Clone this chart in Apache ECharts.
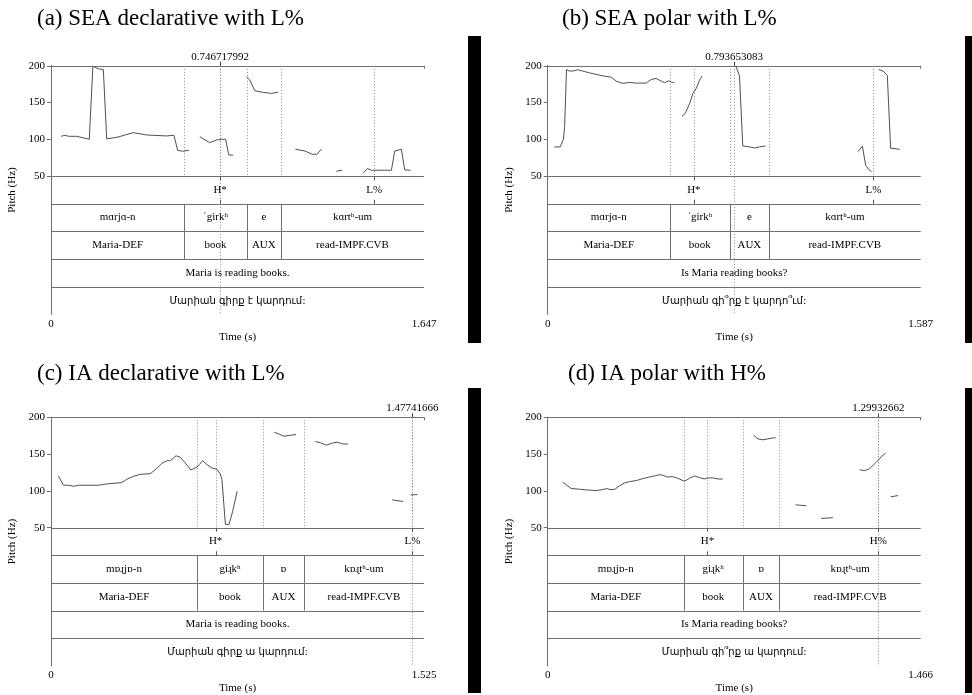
<!DOCTYPE html>
<html><head><meta charset="utf-8">
<script src="https://cdn.jsdelivr.net/npm/echarts@6/dist/echarts.min.js"></script>
<style>html,body{margin:0;padding:0;background:#fff}#c{width:972px;height:695px}</style>
</head><body><div id="c"></div>
<script>
// ---------- data ----------
const titles = ['(a) SEA declarative with L%', '(b) SEA polar with L%', '(c) IA declarative with L%', '(d) IA polar with H%'];
const durations = [1.647, 1.587, 1.525, 1.466];
const durationLabels = ['1.647', '1.587', '1.525', '1.466'];
const pitchMin = 50, pitchMax = 200, pitchStep = 50;
const cursorTimes = [0.746717992, 0.793653083, 1.47741666, 1.29932662];
const cursorLabels = ['0.746717992', '0.793653083', '1.47741666', '1.29932662'];
const wordBounds = [[0.5886, 0.864, 1.0156], [0.5196, 0.775, 0.9413], [0.5968, 0.867, 1.0335], [0.535, 0.7657, 0.911]];
const toneTimes = [[0.7467, 1.4275], [0.6219, 1.3856], [0.673, 1.4774], [0.628, 1.2993]];
const toneLabels = [['H*', 'L%'], ['H*', 'L%'], ['H*', 'L%'], ['H*', 'H%']];
const wordsSEA = ['mɑrjɑ-n', 'ˈgirkʰ', 'e', 'kɑrtʰ-um'];
const wordsIA = ['mɒɻjɒ-n', 'giɻkʰ', 'ɒ', 'kɒɻtʰ-um'];
const glosses = ['Maria-DEF', 'book', 'AUX', 'read-IMPF.CVB'];
const translations = ['Maria is reading books.', 'Is Maria reading books?', 'Maria is reading books.', 'Is Maria reading books?'];
const armenian = ['Մարիան գիրք է կարդում:', 'Մարիան գի՞րք է կարդո՞ւմ:', 'Մարիան գիրք ա կարդում:', 'Մարիան գի՞րք ա կարդում:'];

const pitchA = [
 [[0.044,104.2],[0.062,105.6],[0.077,104.2],[0.113,104.2],[0.169,100.2],[0.185,199.5],[0.209,195.9],[0.231,195.0],[0.246,100.6],[0.297,103.3],[0.363,109.2],[0.422,106],[0.510,104.7],[0.543,105.6],[0.559,85.2],[0.581,83.9],[0.610,85.2]],
 [[0.657,103.8],[0.675,100.2],[0.701,95.6],[0.731,99.2],[0.753,100.2],[0.771,100.2],[0.785,78.9],[0.804,78.5]],
 [[0.863,185.1],[0.878,180.6],[0.900,166.1],[0.937,163.9],[0.974,162.5],[1.003,164.3]],
 [[1.079,86.6],[1.121,84.3],[1.154,79.8],[1.175,79.8],[1.194,87.0]],
 [[1.260,56.8],[1.285,58.1]],
 [[1.378,54.1],[1.397,60.4],[1.415,58.1],[1.503,58.1],[1.518,84.3],[1.547,86.6],[1.562,58.6],[1.588,58.1]]
];
const pitchB = [
 [[0.028,89.8],[0.053,89.8],[0.067,100.2],[0.072,117.3],[0.080,195.0],[0.089,193.2],[0.107,192.8],[0.128,194.6],[0.149,192.8],[0.177,190.5],[0.220,187.3],[0.248,185.5],[0.270,184.6],[0.291,179.2],[0.319,176.1],[0.348,177.4],[0.376,176.5],[0.419,176.5],[0.440,181.5],[0.461,182.8],[0.483,179.2],[0.497,177.0],[0.515,179.7],[0.530,177.4],[0.539,177.4]],
 [[0.571,131.3],[0.585,135.4],[0.603,148.0],[0.618,162.5],[0.632,169.3],[0.646,180.6],[0.657,186.0]],
 [[0.792,201],[0.802,198.6],[0.816,186.4],[0.830,91.1],[0.859,89.8],[0.880,88.4],[0.901,89.8],[0.927,91.1]],
 [[1.320,83.4],[1.339,90.7],[1.353,64.5],[1.370,57.7],[1.378,56.3]],
 [[1.408,195.0],[1.427,192.8],[1.445,186.9],[1.459,88.0],[1.498,86.6]]
];
const pitchC = [
 [[0.030,120.3],[0.051,107.7],[0.071,107.7],[0.092,106.3],[0.112,107.7],[0.194,107.7],[0.228,109.5],[0.289,111.3],[0.310,115.8],[0.337,119.8],[0.365,122.5],[0.406,123.4],[0.433,130.6],[0.453,137.4],[0.474,141.0],[0.487,141.0],[0.511,147.7],[0.528,145.9],[0.549,137.8],[0.572,128.4],[0.597,132.4],[0.606,135.6],[0.620,141.0],[0.638,135.6],[0.658,131.1],[0.679,129.3],[0.692,123.0],[0.699,115.3],[0.713,54.5],[0.728,54.5],[0.743,72.5],[0.761,99.5]],
 [[0.913,179.7],[0.931,177.5],[0.952,174.3],[0.972,175.2],[1.002,176.6]],
 [[1.081,167.1],[1.102,165.3],[1.126,162.2],[1.150,164.9],[1.170,166.2],[1.191,164.0],[1.214,163.5]],
 [[1.395,87.8],[1.440,85.6]],
 [[1.470,94.6],[1.498,95.0]]
];
const pitchD = [
 [[0.059,111.7],[0.072,108.6],[0.092,103.2],[0.125,102.3],[0.151,101.4],[0.190,100.5],[0.216,101.8],[0.232,103.2],[0.245,101.8],[0.262,101.8],[0.282,106.8],[0.302,110.8],[0.321,112.6],[0.348,114.0],[0.374,116.7],[0.400,118.9],[0.420,120.3],[0.439,122.1],[0.452,121.2],[0.472,118.9],[0.492,119.4],[0.511,117.1],[0.538,113.1],[0.557,117.1],[0.577,120.3],[0.597,118.0],[0.616,116.2],[0.629,117.6],[0.649,117.6],[0.669,116.2],[0.688,116.2]],
 [[0.809,175.7],[0.826,170.7],[0.846,169.4],[0.866,170.7],[0.885,172.1],[0.896,172.1]],
 [[0.974,81.1],[1.016,79.8]],
 [[1.075,62.6],[1.121,63.5]],
 [[1.226,128.8],[1.246,127.5],[1.265,130.2],[1.292,139.2],[1.311,146.4],[1.328,151.4]],
 [[1.348,91.9],[1.377,93.7]]
];
const pitchSets = [pitchA, pitchB, pitchC, pitchD];

// ---------- layout ----------
const SERIF = 'Liberation Serif';
const FRAME = '#707070';
const GUIDE = '#8a8a8a';
const geom = [
  {left: 51, top: 65.8, title: [37, 7]},
  {left: 547.7, top: 65.8, title: [562, 7]},
  {left: 51, top: 417.3, title: [37, 362]},
  {left: 547.7, top: 417.3, title: [568, 362]}
];
const W = 373, HF = 248.4, HP = HF * 4 / 9;

const chart = echarts.init(document.getElementById('c'), null, {renderer: 'canvas'});
const option = {animation: false, backgroundColor: '#fff', title: [], grid: [], xAxis: [], yAxis: [], series: [], graphic: []};

function px(v) { return Math.round(v) + 0.5; }

for (let i = 0; i < 4; i++) {
  const g = geom[i], dur = durations[i];
  option.title.push({text: titles[i], left: g.title[0], top: g.title[1], padding: 0,
    textStyle: {fontFamily: SERIF, fontSize: 23, fontWeight: 'normal', color: '#000'}});
  option.grid.push({left: g.left, top: g.top, width: W, height: HP});
  option.grid.push({left: g.left, top: g.top, width: W, height: HF});
  const gp = 2 * i, gf = 2 * i + 1;
  const ax = 3 * i;
  option.xAxis.push({gridIndex: gp, type: 'value', min: 0, max: dur, show: false});
  option.xAxis.push({gridIndex: gf, type: 'value', min: 0, max: dur, interval: dur, position: 'bottom',
    axisLine: {show: true, lineStyle: {color: FRAME, width: 1}},
    axisTick: {show: true, length: 3, lineStyle: {color: FRAME}},
    axisLabel: {show: true, margin: 4, fontFamily: SERIF, fontSize: 11, color: '#000', showMinLabel: true, showMaxLabel: true,
      formatter: (v) => (v === 0 ? '0' : durationLabels[i])},
    splitLine: {show: false},
    name: 'Time (s)', nameLocation: 'middle', nameGap: 17,
    nameTextStyle: {fontFamily: SERIF, fontSize: 11, color: '#000'}});
  option.xAxis.push({gridIndex: gf, type: 'value', min: 0, max: dur, position: 'top',
    axisLine: {show: true, lineStyle: {color: FRAME, width: 1}}, axisTick: {show: false}, axisLabel: {show: false}, splitLine: {show: false}});
  option.yAxis.push({gridIndex: gp, type: 'value', min: pitchMin, max: pitchMax, interval: pitchStep,
    axisLine: {show: true, lineStyle: {color: FRAME}},
    axisTick: {show: true, length: 4, lineStyle: {color: FRAME}},
    axisLabel: {show: true, margin: 6, fontFamily: SERIF, fontSize: 11, color: '#000'},
    splitLine: {show: false}});
  option.yAxis.push({gridIndex: gf, type: 'value', min: 0, max: 9, inverse: true,
    axisLine: {show: true, lineStyle: {color: FRAME}}, axisTick: {show: false}, axisLabel: {show: false}, splitLine: {show: false},
    name: 'Pitch (Hz)', nameLocation: 'middle', nameGap: 33, nameRotate: 90,
    nameTextStyle: {fontFamily: SERIF, fontSize: 11, color: '#000'}});
  option.yAxis.push({gridIndex: gf, type: 'value', min: 0, max: 9, inverse: true, position: 'right',
    axisLine: {show: true, lineStyle: {color: FRAME}}, axisTick: {show: false}, axisLabel: {show: false}, splitLine: {show: false}});

  // pitch contour segments
  pitchSets[i].forEach(seg => {
    option.series.push({type: 'line', xAxisIndex: ax, yAxisIndex: ax, data: seg, showSymbol: false, symbol: 'none',
      lineStyle: {color: '#505050', width: 1}, clip: true, silent: true});
  });

  // horizontal tier rules
  option.series.push({type: 'custom', xAxisIndex: ax + 1, yAxisIndex: ax + 1, silent: true,
    data: [[0, 4], [0, 5], [0, 6], [0, 7], [0, 8]], encode: {x: 0, y: 1},
    renderItem: (params, api) => {
      const a = api.coord([0, api.value(1)]), b = api.coord([dur, api.value(1)]);
      return {type: 'line', shape: {x1: a[0], y1: px(a[1]), x2: b[0], y2: px(b[1])}, style: {stroke: FRAME, lineWidth: 1}};
    }});

  // dotted guides in pitch area: word boundaries and tone points
  const guides = wordBounds[i].concat(toneTimes[i]).map(t => [t, 0, 4]);
  option.series.push({type: 'custom', xAxisIndex: ax + 1, yAxisIndex: ax + 1, silent: true,
    data: guides, encode: {x: 0, y: [1, 2]},
    renderItem: (params, api) => {
      const a = api.coord([api.value(0), api.value(1)]), b = api.coord([api.value(0), api.value(2)]);
      return {type: 'line', shape: {x1: px(a[0]), y1: a[1], x2: px(b[0]), y2: b[1]}, style: {stroke: GUIDE, lineWidth: 1, lineDash: [1, 2]}};
    }});

  // cursor
  option.series.push({type: 'custom', xAxisIndex: ax + 1, yAxisIndex: ax + 1, silent: true,
    data: [[cursorTimes[i], 0, 9]], encode: {x: 0, y: [1, 2]},
    renderItem: (params, api) => {
      const a = api.coord([api.value(0), api.value(1)]), b = api.coord([api.value(0), api.value(2)]);
      const x = px(a[0]);
      return {type: 'group', children: [
        {type: 'line', shape: {x1: x, y1: a[1], x2: x, y2: b[1]}, style: {stroke: GUIDE, lineWidth: 1, lineDash: [1, 2]}},
        {type: 'line', shape: {x1: x, y1: a[1] - 4, x2: x, y2: a[1]}, style: {stroke: '#444', lineWidth: 1}},
        {type: 'text', style: {text: cursorLabels[i], x: a[0], y: a[1] - 9, align: 'center', verticalAlign: 'middle',
          fontFamily: SERIF, fontSize: 11, fill: '#000'}}
      ]};
    }});

  // tone tier points
  option.series.push({type: 'custom', xAxisIndex: ax + 1, yAxisIndex: ax + 1, silent: true,
    data: toneTimes[i].map(t => [t, 4]), encode: {x: 0, y: 1},
    renderItem: (params, api) => {
      const a = api.coord([api.value(0), api.value(1)]), b = api.coord([api.value(0), api.value(1) + 1]);
      const x = px(a[0]);
      return {type: 'group', children: [
        {type: 'line', shape: {x1: x, y1: a[1], x2: x, y2: a[1] + 4}, style: {stroke: '#555', lineWidth: 1}},
        {type: 'line', shape: {x1: x, y1: b[1] - 4, x2: x, y2: b[1]}, style: {stroke: '#555', lineWidth: 1}},
        {type: 'text', style: {text: toneLabels[i][params.dataIndex], x: a[0], y: (a[1] + b[1]) / 2, align: 'center', verticalAlign: 'middle',
          fontFamily: SERIF, fontSize: 11, fill: '#000'}}
      ]};
    }});

  // interval tiers
  const bounds = [0].concat(wordBounds[i]).concat([dur]);
  const words = i < 2 ? wordsSEA : wordsIA;
  const tierData = [], tierText = [];
  for (let k = 0; k < 4; k++) { tierData.push([bounds[k], bounds[k + 1], 5]); tierText.push(words[k]); }
  for (let k = 0; k < 4; k++) { tierData.push([bounds[k], bounds[k + 1], 6]); tierText.push(glosses[k]); }
  tierData.push([0, dur, 7]); tierText.push(translations[i]);
  tierData.push([0, dur, 8]); tierText.push(armenian[i]);
  option.series.push({type: 'custom', xAxisIndex: ax + 1, yAxisIndex: ax + 1, silent: true,
    data: tierData, encode: {x: [0, 1], y: 2},
    renderItem: (params, api) => {
      const t0 = api.value(0), t1 = api.value(1), row = api.value(2);
      const a = api.coord([t0, row]), b = api.coord([t1, row + 1]);
      const arm = row === 8;
      const children = [{type: 'text', style: {text: tierText[params.dataIndex], x: (a[0] + b[0]) / 2, y: (a[1] + b[1]) / 2 + (arm ? 1 : 0),
        align: 'center', verticalAlign: 'middle', fontFamily: arm ? 'DejaVu Sans' : SERIF, fontSize: arm ? 10 : 11, fill: '#000'}}];
      if (t0 > 0) children.push({type: 'line', shape: {x1: px(a[0]), y1: a[1], x2: px(a[0]), y2: b[1]}, style: {stroke: FRAME, lineWidth: 1}});
      return {type: 'group', children};
    }});
}

// black bars at the right of each panel
option.graphic = [
  {type: 'rect', left: 468, top: 36, shape: {width: 13, height: 307}, style: {fill: '#000'}},
  {type: 'rect', left: 965, top: 36, shape: {width: 7, height: 307}, style: {fill: '#000'}},
  {type: 'rect', left: 468, top: 388, shape: {width: 13, height: 305}, style: {fill: '#000'}},
  {type: 'rect', left: 965, top: 388, shape: {width: 7, height: 305}, style: {fill: '#000'}}
];

chart.setOption(option);
</script>
</body></html>
